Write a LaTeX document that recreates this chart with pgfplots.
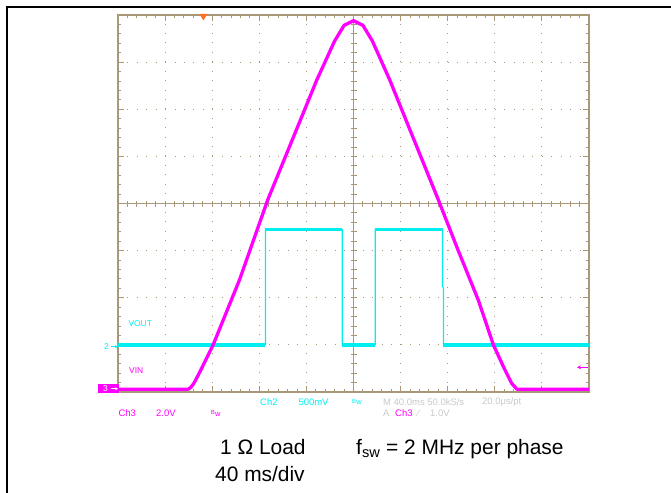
\documentclass[border=0pt]{standalone}
\usepackage{pgfplots}
\pgfplotsset{compat=1.18}
\usepackage{fontspec}
\setmainfont{Liberation Sans}
\usetikzlibrary{arrows.meta}
\definecolor{grat}{RGB}{168,152,120}
\definecolor{mag}{RGB}{255,0,255}
\definecolor{cya}{RGB}{0,238,240}
\definecolor{lgray}{RGB}{200,200,200}
\definecolor{orng}{RGB}{255,110,30}
\newcommand{\scpf}{\fontsize{8.5}{10}\selectfont}
\newcommand{\scpg}{\fontsize{9.5}{11}\selectfont}
\newcommand{\bw}{\raisebox{1.5bp}{\fontsize{6}{7}\selectfont B}\kern0.2bp{\fontsize{7.5}{9}\selectfont w}}
\begin{document}
\begin{tikzpicture}
\useasboundingbox (0,0) rectangle (671bp,493bp);
% frame
\draw[black, line width=2bp] (7.3bp,0) -- (7.3bp,485.7bp) -- (671bp,485.7bp);
\begin{axis}[
  at={(118bp,101bp)}, anchor=south west,
  width=471bp, height=377bp, scale only axis,
  xmin=0, xmax=10, ymin=0, ymax=8,
  xtick={0,...,10}, ytick={0,...,8},
  minor x tick num=4, minor y tick num=4,
  xticklabels={}, yticklabels={},
  tick align=inside,
  major tick length=6bp, minor tick length=3bp,
  tick style={grat, line width=0.9bp},
  axis line style={grat, line width=1.2bp},
  grid=major,
  major grid style={grat, line width=1bp, dash pattern=on 1bp off 8.42bp},
  clip=true,
]
% center cross
\draw[grat, line width=1bp] (axis cs:0,4) -- (axis cs:10,4);
\draw[grat, line width=1bp] (axis cs:5,0) -- (axis cs:5,8);
\pgfplotsinvokeforeach{1,...,49}{
  \draw[grat, line width=0.9bp] (axis cs:{#1*0.2},4) ++(0,-3bp) -- ++(0,6bp);
}
\pgfplotsinvokeforeach{1,...,39}{
  \draw[grat, line width=0.9bp] (axis cs:5,{#1*0.2}) ++(-3bp,0) -- ++(6bp,0);
}
% VOUT (Ch2)
\addplot[cya, line width=1.2bp, line join=miter] coordinates {
  (0,1.0) (3.13,1.0) (3.13,3.45) (4.76,3.45) (4.76,1.0) (5.46,1.0)
  (5.46,3.45) (6.89,3.45) (6.89,2.25) (6.91,2.2) (6.91,1.0) (10,1.0)};
\addplot[cya, line width=3.5bp] coordinates {(0,1.0) (3.13,1.0)};
\addplot[cya, line width=3.5bp] coordinates {(3.13,3.45) (4.76,3.45)};
\addplot[cya, line width=3.5bp] coordinates {(4.76,1.0) (5.46,1.0)};
\addplot[cya, line width=3.5bp] coordinates {(5.46,3.45) (6.89,3.45)};
\addplot[cya, line width=3.5bp] coordinates {(6.91,1.0) (10,1.0)};
% VIN (Ch3)
\addplot[mag, line width=3.3bp, line join=round] coordinates {
  (0,0.06) (1.49,0.06) (1.55,0.1) (1.62,0.2) (1.75,0.45) (2.02,1.0)
  (2.58,2.38) (3.18,4.08) (4.22,6.62) (4.6,7.45) (4.8,7.78) (5.0,7.88)
  (5.2,7.78) (5.4,7.45) (5.77,6.62) (6.80,4.08) (7.22,3.01) (7.65,1.95)
  (7.97,1.0) (8.2,0.5) (8.36,0.18) (8.47,0.06) (10,0.06)};
\end{axis}
% trigger marker (top)
\fill[orng] (199.5bp,479bp) -- (207.3bp,479bp) -- (203.4bp,472.5bp) -- cycle;
% trigger level arrow (right)
\draw[mag, line width=1.2bp, -{Stealth[length=4bp,width=4bp]}] (588bp,125.7bp) -- (577bp,125.7bp);
% channel markers (left)
\node[cya, anchor=east, inner sep=0pt, font=\scpf] at (109bp,146.3bp) {2};
\draw[cya, line width=0.8bp, -{Stealth[length=3bp,width=3bp]}] (110.5bp,146.3bp) -- (118bp,146.3bp);
\fill[mag] (98.3bp,99.7bp) rectangle (119bp,108.7bp);
\node[white, anchor=west, inner sep=0pt, font=\scpf] at (103bp,104.2bp) {3};
\draw[white, line width=0.8bp, -{Stealth[length=3bp,width=3bp]}] (110.5bp,104.2bp) -- (118bp,104.2bp);
% trace labels
\node[cya, anchor=west, inner sep=0pt, font=\scpf] at (128.3bp,169bp) {VOUT};
\node[mag, anchor=west, inner sep=0pt, font=\scpf] at (129bp,122.3bp) {VIN};
% status lines
\node[cya, anchor=west, inner sep=0pt, font=\scpg] at (260bp,91bp) {Ch2};
\node[cya, anchor=west, inner sep=0pt, font=\scpg] at (298.3bp,91bp) {500mV};
\node[cya, anchor=west, inner sep=0pt, font=\scpf] at (352bp,91bp) {\bw};
\node[lgray, anchor=west, inner sep=0pt, font=\scpg] at (383bp,91bp) {M 40.0ms 50.0kS/s};
\node[lgray, anchor=west, inner sep=0pt, font=\scpg] at (482bp,91bp) {20.0μs/pt};
\node[mag, anchor=west, inner sep=0pt, font=\scpg] at (118.3bp,79.7bp) {Ch3};
\node[mag, anchor=west, inner sep=0pt, font=\scpg] at (156bp,79.7bp) {2.0V};
\node[mag, anchor=west, inner sep=0pt, font=\scpf] at (210.7bp,79.7bp) {\bw};
\node[lgray, anchor=west, inner sep=0pt, font=\scpg] at (383bp,79.7bp) {A};
\node[mag, anchor=west, inner sep=0pt, font=\scpg] at (395bp,79.7bp) {Ch3};
\node[lgray, anchor=west, inner sep=0pt, font=\scpg] at (417.7bp,79.7bp) {⁄};
\node[lgray, anchor=west, inner sep=0pt, font=\scpg] at (430bp,79.7bp) {1.0V};
% caption
\node[anchor=base west, inner sep=0pt, font=\fontsize{21}{24}\selectfont] at (220bp,38.7bp) {1 Ω Load};
\node[anchor=base west, inner sep=0pt, font=\fontsize{21}{24}\selectfont] at (356bp,38.7bp) {f\textsubscript{sw} = 2 MHz per phase};
\node[anchor=base west, inner sep=0pt, font=\fontsize{21}{24}\selectfont] at (215bp,12bp) {40 ms/div};
\end{tikzpicture}
\end{document}
